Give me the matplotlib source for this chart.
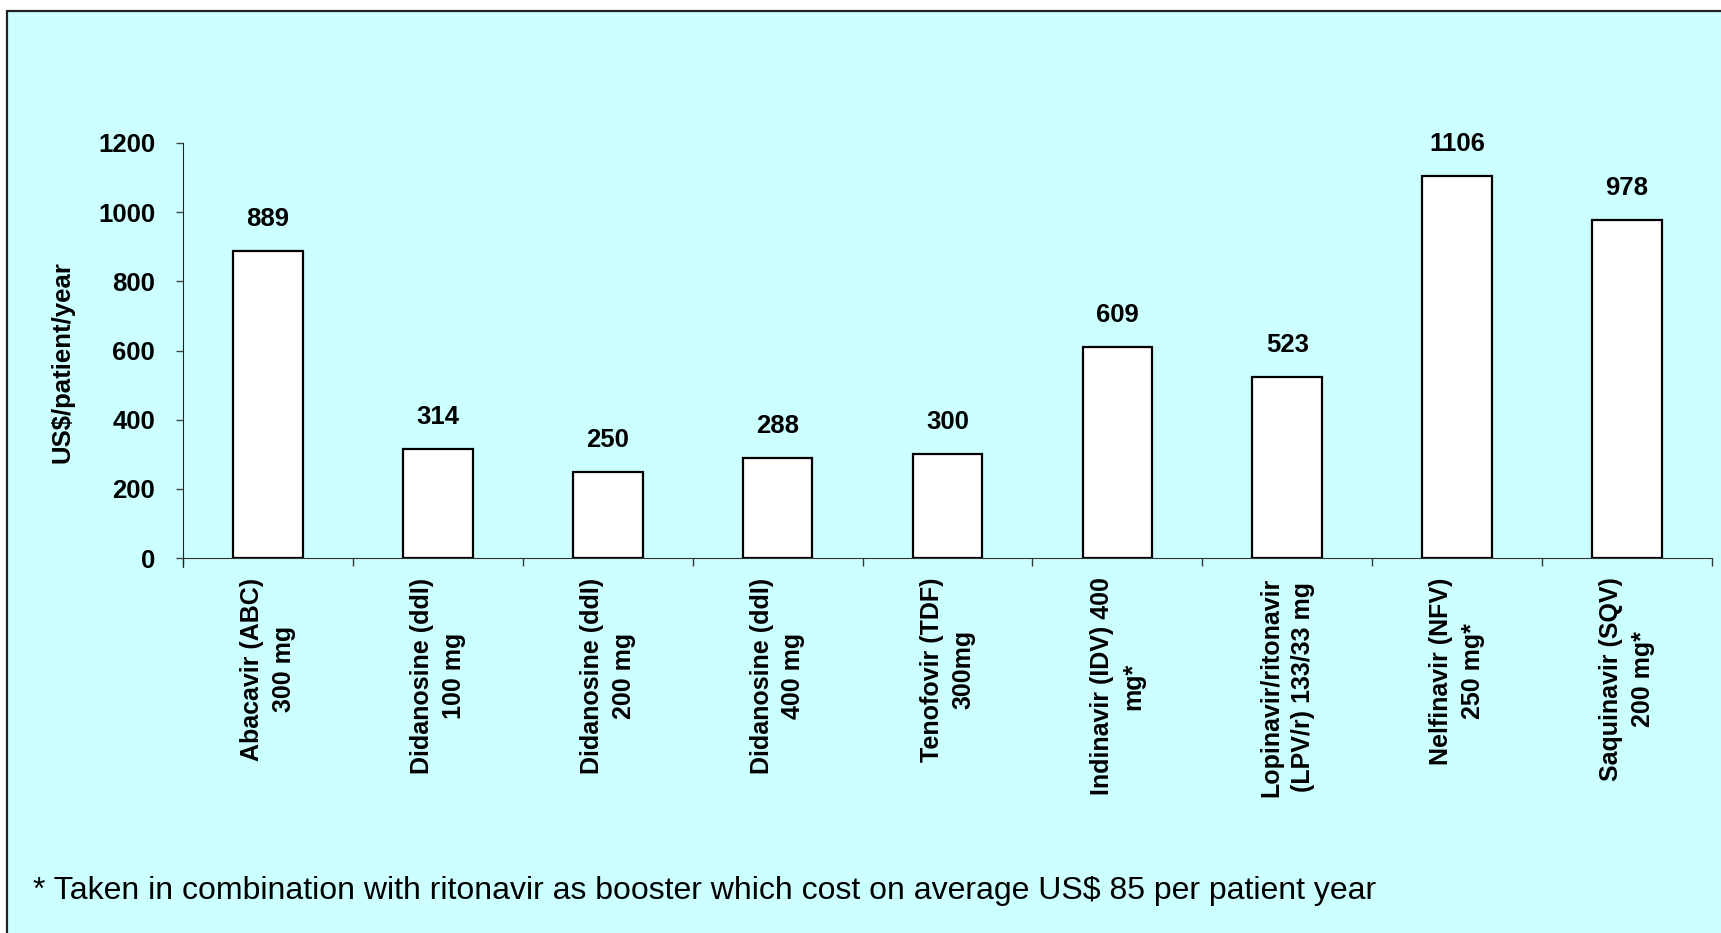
import matplotlib
matplotlib.use("Agg")
import matplotlib.pyplot as plt
from matplotlib.patches import Rectangle

plt.rcParams['font.family'] = ['Liberation Sans', 'DejaVu Sans']

# drug labels (two lines each) and annual cost in US$
drugs = [
    "Abacavir (ABC)\n300 mg",
    "Didanosine (ddI)\n100 mg",
    "Didanosine (ddI)\n200 mg",
    "Didanosine (ddI)\n400 mg",
    "Tenofovir (TDF)\n300mg",
    "Indinavir (IDV) 400\nmg*",
    "Lopinavir/ritonavir\n(LPV/r) 133/33 mg",
    "Nelfinavir (NFV)\n250 mg*",
    "Saquinavir (SQV)\n200 mg*",
]
costs = [889, 314, 250, 288, 300, 609, 523, 1106, 978]
yticks = [0, 200, 400, 600, 800, 1000, 1200]
ylabel = "US$/patient/year"
footnote = "* Taken in combination with ritonavir as booster which cost on average US$ 85 per patient year"

W, H = 1721, 933
fig = plt.figure(figsize=(W / 100, H / 100), dpi=100)
fig.patch.set_facecolor("white")

# light cyan panel with a frame (right/bottom edges run off the picture)
panel = Rectangle((7 / W, -0.02), 1.05, 1 - 10.5 / H + 0.02, transform=fig.transFigure,
                  facecolor="#CCFFFF", edgecolor="#222222", linewidth=1.6, zorder=-1)
fig.patches.append(panel)

ax = fig.add_axes([183 / W, 1 - 558 / H, (1712 - 183) / W, (558 - 143) / H])
ax.set_facecolor("none")

x = [i + 0.5 for i in range(len(costs))]
ax.bar(x, costs, width=0.41, color="white", edgecolor="black", linewidth=1.6, zorder=3)

for xi, c in zip(x, costs):
    ax.annotate(str(c), (xi, c), xytext=(0, 23), textcoords="offset points",
                ha="center", va="center", fontsize=18.5, fontweight="bold")

ax.set_xlim(0, len(costs))
ax.set_ylim(0, 1200)
ax.set_yticks(yticks)
ax.set_yticklabels([str(t) for t in yticks], fontsize=18.5, fontweight="bold")
ax.tick_params(axis="y", direction="out", length=5, width=1, color="#444444", pad=15)

ax.set_xticks(x)
ax.set_xticklabels(drugs, rotation=90, fontsize=18, fontweight="bold",
                   ha="center", va="top", multialignment="center", linespacing=1.4)
ax.set_xticks(range(len(costs) + 1), minor=True)
ax.tick_params(axis="x", which="major", length=0, pad=14)
ax.tick_params(axis="x", which="minor", direction="out", length=5.5, width=1, color="#333333")

for s in ["top", "right"]:
    ax.spines[s].set_visible(False)
ax.spines["left"].set_color("#222222")
ax.spines["bottom"].set_color("#333333")
ax.spines["left"].set_bounds(-25, 1200)

fig.text(62 / W, 1 - 362 / H, ylabel, rotation=90, ha="center", va="center",
         fontsize=18.5, fontweight="bold")
fig.text(33 / W, 1 - 899 / H, footnote, ha="left", va="baseline", fontsize=23)

fig.savefig("out.png", dpi=100)
